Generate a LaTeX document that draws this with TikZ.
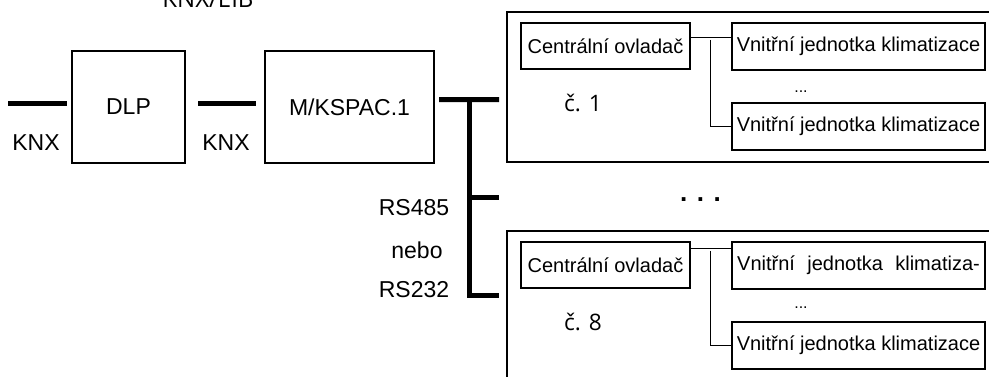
\documentclass[tikz,border=0pt]{standalone}
\usepackage{fontspec}
\setmainfont{Liberation Sans}
\newfontfamily\segoe{Open Sans}
\begin{document}
\begin{tikzpicture}[x=0.75pt,y=-0.75pt,
	box/.style={draw,line width=1.5pt,inner sep=0pt},
	devbox/.style={box,minimum width=#1,minimum height=84pt,font=\fontsize{17.25}{20}\selectfont},
	ctrlbox/.style={box,minimum width=126.75pt,minimum height=34.5pt,font=\fontsize{15}{18}\selectfont},
	unitbox/.style={box,minimum width=189.75pt,minimum height=35.25pt,font=\fontsize{15}{18}\selectfont},
	bus/.style={line width=3.75pt},
	link/.style={line width=0.75pt},
	lbl/.style={font=\fontsize{17.25}{20}\selectfont},
	numlbl/.style={anchor=base,font=\segoe\fontsize{17}{20}\selectfont}]
	\useasboundingbox (0,0) rectangle (989,376);
	\node[devbox=84.75pt] (dlp) at (128.5,107) {DLP};
	\node[devbox=126.75pt] (kspac) at (349.5,107) {M/KSPAC.1};
	\node[box,minimum width=369.75pt,minimum height=112.5pt] (grp1) at (753.5,87) {};
	\node[box,minimum width=369.75pt,minimum height=126.75pt] (grp8) at (753.5,315.5) {};
	\node[ctrlbox] (ctrl1) at (605.5,46) {Centrální ovladač};
	\node[unitbox] (unit1a) at (858.5,46.5) {Vnitřní jednotka klimatizace};
	\node[unitbox] (unit1b) at (858.5,126.5) {Vnitřní jednotka klimatizace};
	\node[ctrlbox] (ctrl8) at (605.5,265) {Centrální ovladač};
	\node[unitbox] (unit8a) at (858.5,265) {\makebox[182pt][s]{Vnitřní jednotka klimatiza-}};
	\node[unitbox] (unit8b) at (858.5,345) {Vnitřní jednotka klimatizace};
	\node[lbl] (knx1) at (36,143) {KNX};
	\node[lbl] (knx2) at (226,143) {KNX};
	\node[anchor=base,font=\segoe\fontsize{18}{20}\selectfont] (eib) at (208,7) {KNX/EIB};
	\node[lbl] (rs485) at (414,208) {RS485};
	\node[lbl] (nebo) at (417,250.5) {nebo};
	\node[lbl] (rs232) at (414,290) {RS232};
	\node[numlbl] (no1) at (583,111.5) {č. 1};
	\node[numlbl] (no8) at (583,330) {č. 8};
	\node[font=\fontsize{12}{13}\selectfont] (dots1) at (801,91.5) {...};
	\node[font=\fontsize{12}{13}\selectfont] (dots8) at (801,308) {...};
	\node[font=\bfseries\fontsize{19.5}{22}\selectfont] (more) at (700.5,199.5) {. . .};
	\coordinate (knx) at (8,103);
	\coordinate (tap) at (469.5,99.5);
	\coordinate (b1) at (499,99.5);
	\coordinate (bm) at (499,197);
	\coordinate (b8) at (499,295.5);
	\coordinate (c1) at (710,37.3);
	\coordinate (c8) at (710,248.3);
	\draw[bus] (knx) -- ([xshift=-3pt,yshift=3pt]dlp.west);
	\draw[bus] ([xshift=9pt,yshift=3pt]dlp.east) -- ([xshift=-6pt,yshift=3pt]kspac.west);
	\draw[bus] ([xshift=3pt,yshift=5.6pt]kspac.east) -- (b1);
	\draw[bus,line join=miter] (tap) |- (b8);
	\draw[bus] (tap |- bm) -- (bm);
	\draw[link] (ctrl1.east |- c1) -- (unit1a.west |- c1);
	\draw[link] ([yshift=-2pt]c1) |- (unit1b.west);
	\draw[link] (ctrl8.east |- c8) -- (unit8a.west |- c8);
	\draw[link] ([yshift=-2pt]c8) |- (unit8b.west);
\end{tikzpicture}
\end{document}
